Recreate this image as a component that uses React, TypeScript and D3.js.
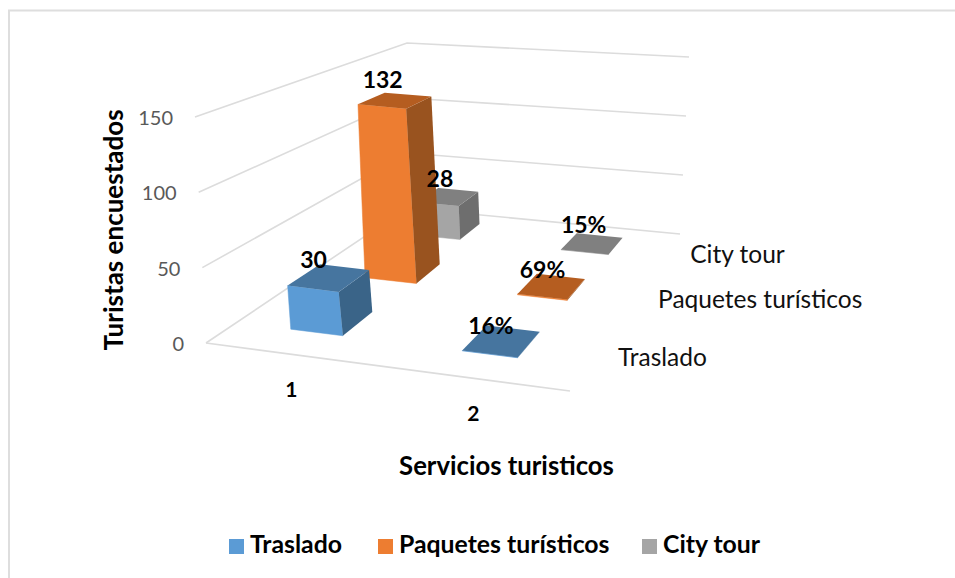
import React from "react";
import * as d3 from "d3";

const categories = ["1", "2"];
const seriesNames = ["Traslado", "Paquetes turísticos", "City tour"];
const traslado = [30, 0.16];
const paquetes = [132, 0.69];
const cityTour = [28, 0.15];
const trasladoLabels = ["30", "16%"];
const paquetesLabels = ["132", "69%"];
const cityLabels = ["28", "15%"];
const valueTicks = [0, 50, 100, 150];
const seriesValues = [traslado, paquetes, cityTour];
const seriesLabels = [trasladoLabels, paquetesLabels, cityLabels];
const fronts = ["#5b9bd5", "#ed7d31", "#a5a5a5"];
const tops = ["#46759f", "#b55d20", "#808080"];
const sides = ["#3a6488", "#99531f", "#6e6e6e"];

type P = [number, number];

// Projective map from the unit square to a screen quadrilateral
function homography(p00: P, p10: P, p11: P, p01: P) {
  const [x0, y0] = p00, [x1, y1] = p10, [x2, y2] = p11, [x3, y3] = p01;
  const dx1 = x1 - x2, dx2 = x3 - x2, sx = x0 - x1 + x2 - x3;
  const dy1 = y1 - y2, dy2 = y3 - y2, sy = y0 - y1 + y2 - y3;
  const den = dx1 * dy2 - dx2 * dy1;
  const g = (sx * dy2 - dx2 * sy) / den;
  const h = (dx1 * sy - sx * dy1) / den;
  const a = x1 - x0 + g * x1, b = x3 - x0 + h * x3;
  const d = y1 - y0 + g * y1, e = y3 - y0 + h * y3;
  return (u: number, v: number): P => {
    const w = g * u + h * v + 1;
    return [(a * u + b * v + x0) / w, (d * u + e * v + y0) / w];
  };
}

const floor = homography([206, 343], [570, 391], [680, 234], [407, 208]);
const ceil = homography([195, 117], [576, 172], [689, 57], [407, 43]);
const uScale = d3.scaleLinear().domain([0, 2]).range([0, 1]);
const vScale = d3.scaleLinear().domain([0, 3]).range([0, 1]);
const yScale = d3.scaleLinear().domain([0, 150]).range([0, 1]);

function project(c: number, s: number, val: number): P {
  const u = uScale(c), v = vScale(s), t = yScale(val);
  const a = floor(u, v), b = ceil(u, v);
  return [a[0] + (b[0] - a[0]) * t, a[1] + (b[1] - a[1]) * t];
}

const poly = (pts: P[]) => (d3.line()(pts) as string) + "Z";
const halfD = 0.21;
const depthShift = 0.56;
// footprint half-width and centre nudge, by series and category
const halfWs = [[0.155, 0.153], [0.168, 0.152], [0.15, 0.16]];
const nudges = [[-0.015, -0.024], [0.023, -0.018], [-0.02, -0.01]];
// small label offsets, by series and category
const labelDx = [[-18, -15], [-9, -12], [-11, -10]];
const labelDy = [[-10, -8], [-12, -9], [-10, -11]];
const FONT = "Lato, Carlito, sans-serif";
const cOrder = [0, 1];
const sOrder = [2, 1, 0];
const legendX = [229, 378, 642];

export default function App() {
  return (
    <svg width={955} height={578} style={{ position: "absolute", left: 0, top: 0, background: "#fff" }} fontFamily={FONT}>
      <path d="M9,578V10.5H955" fill="none" stroke="#dedede" strokeWidth={2} />
      {valueTicks.map((t) => (
        <path key={t} d={d3.line()([project(0, 0, t), project(0, 3, t), project(2, 3, t)]) as string} fill="none" stroke="#dcdcdc" strokeWidth={1.6} />
      ))}
      <path d={d3.line()([project(0, 0, 0), project(2, 0, 0)]) as string} fill="none" stroke="#dcdcdc" strokeWidth={1.6} />
      {valueTicks.map((t) => {
        const p = project(0, 0, t);
        return <text key={t} x={p[0] - 22} y={p[1] + 8} textAnchor="end" fontSize={20} fill="#595959">{t}</text>;
      })}
      {sOrder.map((s) =>
        cOrder.map((c) => {
          const val = seriesValues[s][c];
          const hw = halfWs[s][c];
          const cc = c + 0.5 + nudges[s][c], sc = s + depthShift;
          const x0 = cc - hw, x1 = cc + hw, z0 = sc - halfD, z1 = sc + halfD;
          const front = [project(x0, z0, 0), project(x1, z0, 0), project(x1, z0, val), project(x0, z0, val)];
          const side = [project(x1, z0, 0), project(x1, z1, 0), project(x1, z1, val), project(x1, z0, val)];
          const top = [project(x0, z0, val), project(x1, z0, val), project(x1, z1, val), project(x0, z1, val)];
          return (
            <g key={`${s}-${c}`}>
              <path d={poly(front)} fill={fronts[s]} stroke={fronts[s]} strokeWidth={0.5} />
              <path d={poly(side)} fill={sides[s]} />
              <path d={poly(top)} fill={tops[s]} />
            </g>
          );
        })
      )}
      {sOrder.map((s) =>
        cOrder.map((c) => {
          const lab = project(c + 0.5, s + depthShift, seriesValues[s][c]);
          return (
            <text key={`${s}-${c}`} x={lab[0] + labelDx[s][c]} y={lab[1] + labelDy[s][c]} textAnchor="middle" fontSize={23} fontWeight={700} fill="#000">
              {seriesLabels[s][c]}
            </text>
          );
        })
      )}
      {categories.map((c, i) => {
        const p = project(i + 0.5, 0, 0);
        return <text key={c} x={p[0]} y={p[1] + 43} textAnchor="middle" fontSize={21} fontWeight={700}>{c}</text>;
      })}
      {seriesNames.map((n, s) => {
        const p = project(2, s + 0.5, 0);
        return <text key={n} x={p[0] + 24} y={p[1] + 9} fontSize={24.5} fill="#111">{n}</text>;
      })}
      <text x={506.5} y={475} textAnchor="middle" fontSize={25.7} fontWeight={700}>Servicios turisticos</text>
      <text transform="translate(123,230) rotate(-90)" textAnchor="middle" fontSize={26} fontWeight={700}>Turistas encuestados</text>
      {seriesNames.map((n, i) => (
        <g key={n}>
          <rect x={legendX[i]} y={539} width={15} height={15} fill={fronts[i]} />
          <text x={legendX[i] + 21} y={553} fontSize={24.8} fontWeight={700}>{n}</text>
        </g>
      ))}
    </svg>
  );
}
